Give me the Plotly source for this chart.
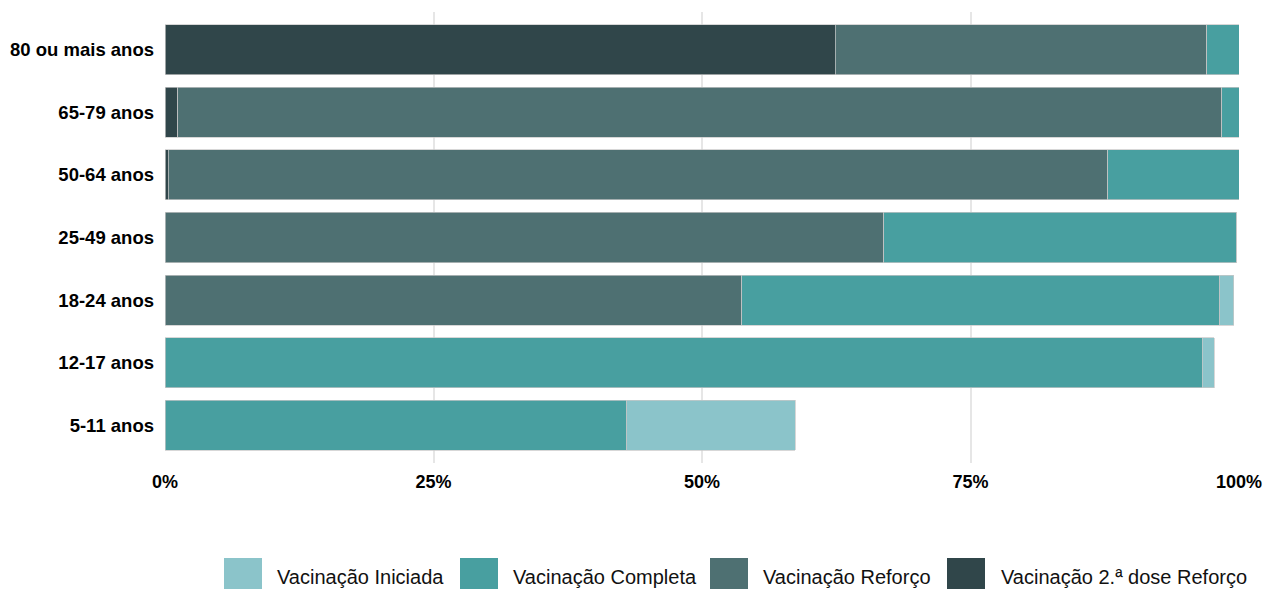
import plotly.graph_objects as go

categories = ["80 ou mais anos", "65-79 anos", "50-64 anos", "25-49 anos",
              "18-24 anos", "12-17 anos", "5-11 anos"]
reforco2 = [62.4, 1.2, 0.3, 0.0, 0.0, 0.0, 0.0]
reforco = [34.6, 97.2, 87.5, 66.9, 53.7, 0.0, 0.0]
completa = [3.0, 1.6, 12.2, 32.9, 44.5, 96.6, 43.0]
iniciada = [0.0, 0.0, 0.0, 0.0, 1.3, 1.1, 15.7]

x_ticks = [0, 25, 50, 75, 100]
x_tick_labels = ["0%", "25%", "50%", "75%", "100%"]

series_names = ["Vacinação 2.ª dose Reforço", "Vacinação Reforço",
                "Vacinação Completa", "Vacinação Iniciada"]
series_values = [reforco2, reforco, completa, iniciada]
series_colors = ["#30464A", "#4E7072", "#489FA0", "#8BC4CA"]

FONT = "Liberation Sans, Arial, sans-serif"

fig = go.Figure()
for name, vals, color in zip(series_names, series_values, series_colors):
    fig.add_trace(go.Bar(
        y=categories, x=vals, name=name, orientation="h",
        marker=dict(color=color, line=dict(color="rgba(200,200,200,0.9)", width=0.8)),
        width=0.8, showlegend=False,
    ))

# manual legend (large swatches), positioned in paper coordinates
PLOT_LEFT, PLOT_W, PLOT_BOTTOM, PLOT_H = 165.0, 1074.0, 463.0, 451.0


def px_x(v):
    return (v - PLOT_LEFT) / PLOT_W


def px_y(v):
    return (PLOT_BOTTOM - v) / PLOT_H


legend_swatch_left = [224, 460, 710, 947]
legend_text_left = [275, 511, 761, 999]
legend_order = [3, 2, 1, 0]
for sx, tx, idx in zip(legend_swatch_left, legend_text_left, legend_order):
    fig.add_shape(type="rect", xref="paper", yref="paper",
                  x0=px_x(sx), x1=px_x(sx + 38), y0=px_y(558), y1=px_y(592),
                  fillcolor=series_colors[idx], line=dict(width=0))
    fig.add_annotation(xref="paper", yref="paper", x=px_x(tx), y=px_y(577),
                       xanchor="left", yanchor="middle", showarrow=False,
                       text=series_names[idx],
                       font=dict(size=20, family=FONT, color="#111111"))

fig.update_layout(
    barmode="stack",
    width=1265, height=589,
    margin=dict(l=165, r=26, t=12, b=126),
    plot_bgcolor="white", paper_bgcolor="white",
    font=dict(family=FONT, color="black"),
    xaxis=dict(range=[0, 100], tickvals=x_ticks, ticktext=x_tick_labels,
               showgrid=True, gridcolor="#E6E6E6", gridwidth=2,
               zeroline=False, showline=False, ticks="",
               tickfont=dict(size=18, family=FONT, weight="bold"),
               ticklabelstandoff=6, automargin=False),
    yaxis=dict(categoryorder="array", categoryarray=categories[::-1],
               range=[-0.6, 6.6], showgrid=False, zeroline=False, showline=False,
               ticks="", tickfont=dict(size=18.5, family=FONT, weight="bold"),
               ticklabelstandoff=10, automargin=False),
    showlegend=False,
    bargap=0.2,
)

fig.write_html(
    "out.html",
    config={"displayModeBar": False},
    post_script="document.body.style.margin='0px';document.body.style.overflow='hidden';",
)
